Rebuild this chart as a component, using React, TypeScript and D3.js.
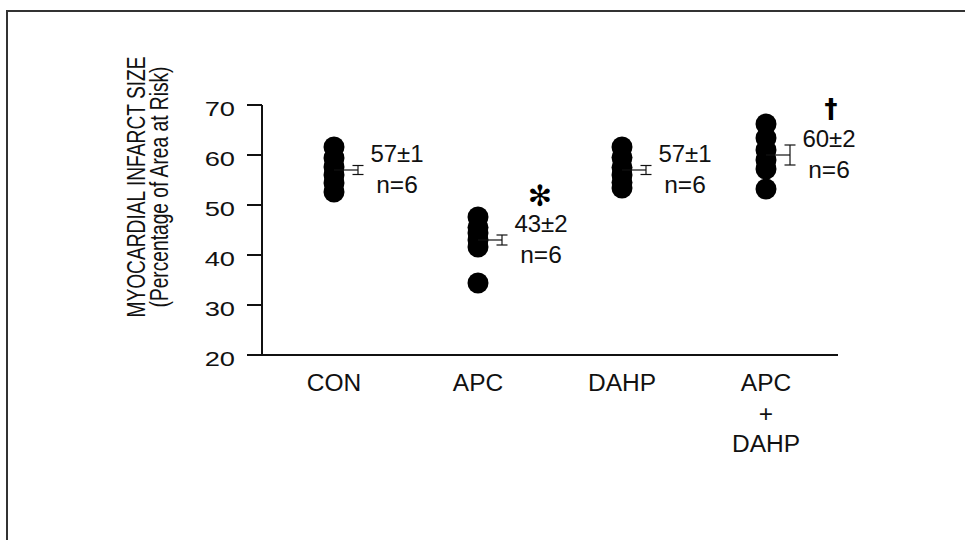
import React from "react";
import * as d3 from "d3";

// groups along the x axis
const categories = ["CON", "APC", "DAHP", "APC+DAHP"];
const categoryLines = [["CON"], ["APC"], ["DAHP"], ["APC", "+", "DAHP"]];

// individual infarct sizes (% of area at risk)
const conValues = [61.6, 59.4, 57.6, 56.0, 54.4, 52.6];
const apcValues = [47.6, 45.5, 44.4, 43.0, 41.6, 34.4];
const dahpValues = [61.6, 59.5, 57.5, 56.0, 54.5, 53.4];
const apcDahpValues = [66.2, 63.4, 61.0, 59.0, 57.2, 53.2];
const groupValues = [conValues, apcValues, dahpValues, apcDahpValues];

// mean and error bar half-length as drawn
const means = [57, 43, 57, 60];
const errors = [0.9, 1, 0.9, 2];

const meanLabels = ["57±1", "43±2", "57±1", "60±2"];
const nLabels = ["n=6", "n=6", "n=6", "n=6"];
const markers = ["", "✻", "", "†"];

const yTicks = [20, 30, 40, 50, 60, 70];
const yTitle = ["MYOCARDIAL INFARCT SIZE", "(Percentage of Area at Risk)"];

const width = 965;
const height = 540;
const font = "'Liberation Sans', Arial, sans-serif";

export default function App() {
  const y = d3.scaleLinear().domain([20, 70]).range([355, 105]);
  const x = d3.scaleBand().domain(categories).range([262, 838]);
  const cx = (c: string) => (x(c) as number) + x.bandwidth() / 2;
  const left = 262;
  const bottom = y(20);

  return (
    <svg
      width={width}
      height={height}
      style={{ position: "absolute", left: 0, top: 0, background: "#fff" }}
      fontFamily={font}
    >
      <rect width={width} height={height} fill="#fff" />
      {/* frame (only top and left edges are visible) */}
      <line x1={7} x2={width} y1={11} y2={11} stroke="#333" strokeWidth={2} />
      <line x1={7} x2={7} y1={10} y2={height} stroke="#333" strokeWidth={2} />

      {/* y axis */}
      <line x1={left} x2={left} y1={y(70)} y2={bottom} stroke="#111" strokeWidth={2} />
      {yTicks.map((t) => (
        <g key={t}>
          <line x1={left - 15} x2={left} y1={y(t)} y2={y(t)} stroke="#111" strokeWidth={2} />
          <text
            transform={`translate(235,${y(t) + 10.5}) scale(1.3,1)`}
            textAnchor="end"
            fontSize={21}
            fill="#111"
          >
            {t}
          </text>
        </g>
      ))}
      <g transform="translate(145,187) rotate(-90) scale(1,1.3)">
        {yTitle.map((s, i) => (
          <text key={i} x={0} y={i * 17.7} textAnchor="middle" fontSize={19.2} fill="#111">
            {s}
          </text>
        ))}
      </g>

      {/* x axis */}
      <line x1={left} x2={838} y1={bottom} y2={bottom} stroke="#111" strokeWidth={2} />
      {categories.map((c, i) => (
        <text key={c} textAnchor="middle" fontSize={24.5} fill="#111">
          {categoryLines[i].map((s, j) => (
            <tspan key={j} x={cx(c)} y={391 + j * 30.5}>
              {s}
            </tspan>
          ))}
        </text>
      ))}

      {/* groups */}
      {categories.map((c, i) => {
        const px = cx(c);
        const ex = px + 24;
        const lx = px + 63;
        const my = y(means[i]);
        const hi = y(means[i] + errors[i]);
        const lo = y(means[i] - errors[i]);
        return (
          <g key={c}>
            {groupValues[i].map((v, j) => (
              <circle key={j} cx={px} cy={y(v)} r={10.5} fill="#000" />
            ))}
            <line x1={px} x2={ex} y1={my} y2={my} stroke="#111" strokeWidth={1.2} />
            <line x1={ex} x2={ex} y1={hi} y2={lo} stroke="#111" strokeWidth={1.2} />
            <line x1={ex - 5.5} x2={ex + 5.5} y1={hi} y2={hi} stroke="#111" strokeWidth={1.2} />
            <line x1={ex - 5.5} x2={ex + 5.5} y1={lo} y2={lo} stroke="#111" strokeWidth={1.2} />
            <text x={lx} y={my - 8} textAnchor="middle" fontSize={24} fill="#111">
              {meanLabels[i]}
            </text>
            <text x={lx} y={my + 22.5} textAnchor="middle" fontSize={24.5} fill="#111">
              {nLabels[i]}
            </text>
            {i === 1 && (
              <text x={lx - 1} y={my - 34} textAnchor="middle" fontSize={29} fontFamily="'DejaVu Sans', sans-serif" fill="#000">
                {markers[i]}
              </text>
            )}
            {i === 3 && (
              <text x={lx + 2} y={my - 37} textAnchor="middle" fontSize={26} fontWeight="bold" fontFamily="'DejaVu Sans', sans-serif" fill="#000">
                {markers[i]}
              </text>
            )}
          </g>
        );
      })}
    </svg>
  );
}
